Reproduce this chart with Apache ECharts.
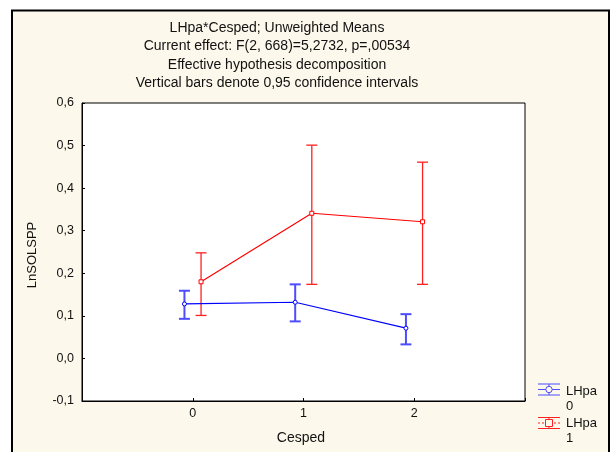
<!DOCTYPE html>
<html>
<head>
<meta charset="utf-8">
<script src="https://cdn.jsdelivr.net/npm/echarts@6/dist/echarts.min.js"></script>
<style>
html,body{margin:0;padding:0;background:#fff;}
#chart{width:614px;height:452px;}
</style>
</head>
<body>
<div id="chart"></div>
<script>
// ---- Data ----
const categories = [0, 1, 2];
const xTickLabels = ['0', '1', '2'];
const seriesNames = ['LHpa 0', 'LHpa 1'];
const blueMean = [0.128, 0.132, 0.071];
const blueLow  = [0.093, 0.087, 0.033];
const blueHigh = [0.159, 0.174, 0.104];
const redMean  = [0.180, 0.341, 0.321];
const redLow   = [0.101, 0.174, 0.174];
const redHigh  = [0.248, 0.501, 0.461];
const titleLines = [
  'LHpa*Cesped; Unweighted Means',
  'Current effect: F(2, 668)=5,2732, p=,00534',
  'Effective hypothesis decomposition',
  'Vertical bars denote 0,95 confidence intervals'
];

// ---- Styling ----
const FONT = '"Liberation Sans", Arial, sans-serif';
const OFFSET = 0.075;
const BLUE = '#0000ff', BLUE_ERR = '#4d4dff';
const RED = '#ff0000', RED_ERR = '#ff2020';

function lineData(mean, off) {
  return categories.map((c, i) => [c + off, mean[i]]);
}
function errData(low, high, off) {
  return categories.map((c, i) => [c + off, low[i], high[i]]);
}
function makeErrRender(color, width) {
  return function (params, api) {
    const x = api.value(0), lo = api.value(1), hi = api.value(2);
    const pt = api.coord([x, hi]);
    const pb = api.coord([x, lo]);
    const hw = 5.5;
    const st = {stroke: color, lineWidth: width};
    return {
      type: 'group',
      children: [
        {type: 'line', shape: {x1: pt[0], y1: pt[1], x2: pb[0], y2: pb[1]}, style: st},
        {type: 'line', shape: {x1: pt[0] - hw, y1: pt[1], x2: pt[0] + hw, y2: pt[1]}, style: st},
        {type: 'line', shape: {x1: pb[0] - hw, y1: pb[1], x2: pb[0] + hw, y2: pb[1]}, style: st}
      ]
    };
  };
}

const chart = echarts.init(document.getElementById('chart'), null, {renderer: 'canvas'});

const legendGraphics = [];
function legendItem(cy, color, isSquare, label2, textY) {
  const cx = 549;
  const st = {stroke: color, lineWidth: 1};
  legendGraphics.push(
    {type: 'line', shape: {x1: cx - 11, y1: cy - 5.5, x2: cx + 11, y2: cy - 5.5}, style: st, z: 10},
    {type: 'line', shape: {x1: cx - 11, y1: cy + 5.5, x2: cx + 11, y2: cy + 5.5}, style: st, z: 10},
    {type: 'line', shape: {x1: cx, y1: cy - 5.5, x2: cx, y2: cy + 5.5}, style: st, z: 10},
    {type: 'line', shape: {x1: cx - 11, y1: cy, x2: cx + 11, y2: cy},
      style: {stroke: color, lineWidth: 1, lineDash: isSquare ? [2, 2] : null}, z: 10},
    isSquare
      ? {type: 'rect', shape: {x: cx - 3.5, y: cy - 3.5, width: 7, height: 7}, style: {stroke: color, fill: '#fdf8ec', lineWidth: 1}, z: 11}
      : {type: 'circle', shape: {cx: cx, cy: cy, r: 3.2}, style: {stroke: color, fill: '#fdf8ec', lineWidth: 1}, z: 11},
    {type: 'text', x: 566, y: textY, z: 11,
      style: {text: 'LHpa\n' + label2, font: '13px ' + FONT, fill: '#111', lineHeight: 15, textVerticalAlign: 'top'}}
  );
}
legendItem(389.5, BLUE_ERR, false, '0', 384);
legendItem(423, RED_ERR, true, '1', 416);

const option = {
  backgroundColor: '#ffffff',
  animation: false,
  graphic: [
    {type: 'rect', z: -100, shape: {x: 12, y: 10.5, width: 597, height: 460},
      style: {fill: '#fdf8ec', stroke: '#000', lineWidth: 2}},
    {type: 'text', x: 277, y: 19, z: 5,
      style: {text: titleLines.join('\n'), font: '14px ' + FONT, fill: '#111',
        lineHeight: 18.3, textAlign: 'center', textVerticalAlign: 'top'}},
    {type: 'text', x: 32.5, y: 255, rotation: Math.PI / 2, z: 5,
      style: {text: 'LnSOLSPP', font: '13px ' + FONT, fill: '#111', textAlign: 'center', textVerticalAlign: 'middle'}},
    {type: 'text', x: 301, y: 438.5, z: 5,
      style: {text: 'Cesped', font: '14px ' + FONT, fill: '#111', textAlign: 'center', textVerticalAlign: 'middle'}}
  ].concat(legendGraphics),
  grid: {
    left: 82, right: 89, top: 103, bottom: 51,
    show: true, backgroundColor: '#ffffff', borderColor: '#000', borderWidth: 1
  },
  xAxis: {
    type: 'value', min: -1, max: 3, interval: 1,
    axisLine: {show: true, onZero: false, lineStyle: {color: '#000', width: 1}},
    axisTick: {show: true, inside: true, length: 3, lineStyle: {color: '#000'}},
    splitLine: {show: false},
    axisLabel: {
      margin: 6, color: '#111', fontFamily: FONT, fontSize: 12.5,
      formatter: function (v) {
        const i = categories.indexOf(Math.round(v));
        return (i >= 0 && Math.abs(v - Math.round(v)) < 1e-9) ? xTickLabels[i] : '';
      }
    }
  },
  yAxis: {
    type: 'value', min: -0.1, max: 0.6, interval: 0.1,
    axisLine: {show: true, onZero: false, lineStyle: {color: '#000', width: 1}},
    axisTick: {show: true, inside: true, length: 3, lineStyle: {color: '#000'}},
    splitLine: {show: false},
    axisLabel: {
      margin: 8, color: '#111', fontFamily: FONT, fontSize: 12.5,
      formatter: function (v) { return v.toFixed(1).replace('.', ','); }
    }
  },
  series: [
    {
      name: seriesNames[0], type: 'line', data: lineData(blueMean, -OFFSET),
      symbol: 'circle', symbolSize: 4, showSymbol: true,
      itemStyle: {color: '#ffffff', borderColor: BLUE, borderWidth: 1},
      lineStyle: {color: BLUE, width: 1.2}, z: 3
    },
    {
      name: seriesNames[1], type: 'line', data: lineData(redMean, OFFSET),
      symbol: 'rect', symbolSize: 4, showSymbol: true,
      itemStyle: {color: '#ffffff', borderColor: RED, borderWidth: 1},
      lineStyle: {color: RED, width: 1.2}, z: 3
    },
    {
      name: seriesNames[0] + ' CI', type: 'custom', data: errData(blueLow, blueHigh, -OFFSET),
      encode: {x: 0, y: [1, 2]}, renderItem: makeErrRender(BLUE_ERR, 2), z: 2
    },
    {
      name: seriesNames[1] + ' CI', type: 'custom', data: errData(redLow, redHigh, OFFSET),
      encode: {x: 0, y: [1, 2]}, renderItem: makeErrRender(RED_ERR, 1.3), z: 2
    }
  ]
};
chart.setOption(option);
</script>
</body>
</html>
